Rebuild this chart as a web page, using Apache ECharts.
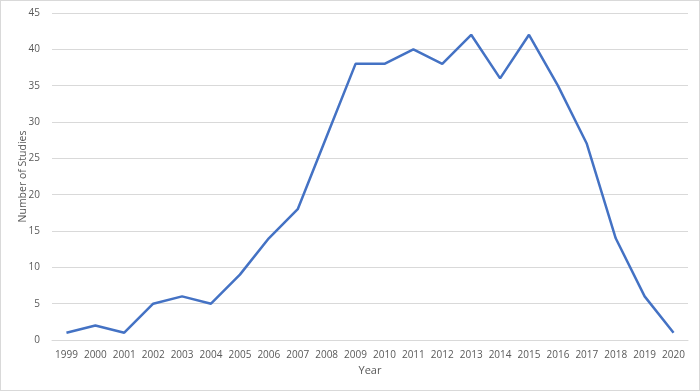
<!DOCTYPE html>
<html>
<head>
<meta charset="utf-8">
<script src="https://cdn.jsdelivr.net/npm/echarts@6/dist/echarts.min.js"></script>
<style>
  html, body { margin: 0; padding: 0; background: #fff; }
  #chart { width: 700px; height: 391px; box-sizing: border-box; border: 1px solid #d9d9d9; }
</style>
</head>
<body>
<div id="chart"></div>
<script>
const years = ["1999", "2000", "2001", "2002", "2003", "2004", "2005", "2006", "2007", "2008", "2009",
  "2010", "2011", "2012", "2013", "2014", "2015", "2016", "2017", "2018", "2019", "2020"];
const studies = [1, 2, 1, 5, 6, 5, 9, 14, 18, 28, 38, 38, 40, 38, 42, 36, 42, 35, 27, 14, 6, 1];

const chart = echarts.init(document.getElementById("chart"));

const option = {
  animation: false,
  grid: { left: 51, right: 11, top: 12, bottom: 50 },
  xAxis: {
    type: "category",
    data: years,
    name: "Year",
    nameLocation: "middle",
    nameGap: 25,
    nameTextStyle: { color: "#595959", fontSize: 11, fontFamily: "Open Sans" },
    boundaryGap: true,
    axisLine: { lineStyle: { color: "#d9d9d9" } },
    axisTick: { show: false },
    axisLabel: { color: "#595959", fontSize: 10, fontFamily: "Open Sans", margin: 10, interval: 0 },
  },
  yAxis: {
    type: "value",
    min: 0,
    max: 45,
    interval: 5,
    name: "Number of Studies",
    nameLocation: "middle",
    nameGap: 23,
    nameMoveOverlap: false,
    nameTextStyle: { color: "#595959", fontSize: 10.5, fontFamily: "Open Sans" },
    axisLine: { show: false },
    axisTick: { show: false },
    axisLabel: { color: "#595959", fontSize: 10, fontFamily: "Open Sans", margin: 12 },
    splitLine: { lineStyle: { color: "#d9d9d9" } },
  },
  series: [
    {
      type: "line",
      data: studies,
      symbol: "none",
      lineStyle: { color: "#4472c4", width: 2.5 },
    },
  ],
};

chart.setOption(option);
</script>
</body>
</html>
